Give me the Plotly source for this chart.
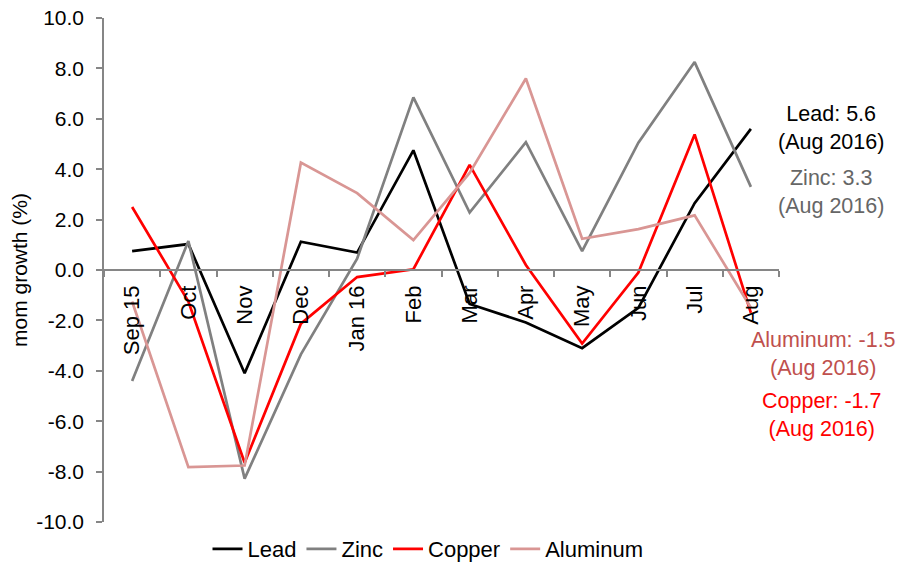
import plotly.graph_objects as go

# Month-on-month growth of base metal prices (%)
months = ["Sep 15", "Oct", "Nov", "Dec", "Jan 16", "Feb", "Mar", "Apr", "May", "Jun", "Jul", "Aug"]
lead = [0.75, 1.03, -4.1, 1.12, 0.69, 4.75, -1.35, -2.08, -3.1, -1.5, 2.65, 5.6]
zinc = [-4.4, 1.15, -8.28, -3.35, 0.45, 6.85, 2.28, 5.07, 0.75, 5.05, 8.25, 3.3]
copper = [2.5, -1.25, -7.65, -2.13, -0.28, 0.03, 4.17, 0.2, -2.92, -0.1, 5.38, -1.7]
aluminum = [-1.25, -7.82, -7.76, 4.26, 3.05, 1.19, 3.85, 7.6, 1.24, 1.62, 2.17, -1.5]
y_ticks = [-10, -8, -6, -4, -2, 0, 2, 4, 6, 8, 10]

series = [
    ("Lead", lead, "#000000", "#000000"),
    ("Zinc", zinc, "#808080", "#666666"),
    ("Copper", copper, "#FF0000", "#FF0000"),
    ("Aluminum", aluminum, "#D99694", "#C0504D"),
]

FONT = "Arial, Liberation Sans, sans-serif"

fig = go.Figure()
for name, vals, color, _ in series:
    fig.add_trace(go.Scatter(
        x=months, y=vals, name=name, mode="lines",
        line=dict(color=color, width=2.7),
    ))

# Latest-month value call-outs to the right of the plot
label_pos = {"Lead": (1.077, 0.781), "Zinc": (1.077, 0.654),
             "Aluminum": (1.066, 0.333), "Copper": (1.064, 0.212)}
for name, vals, _, tcolor in series:
    x, y = label_pos[name]
    fig.add_annotation(
        xref="paper", yref="paper", x=x, y=y,
        xanchor="center", yanchor="middle", showarrow=False,
        text=f"{name}: {vals[-1]:.1f}<br>({months[-1]} 2016)",
        font=dict(family=FONT, size=21.5, color=tcolor),
    )

fig.update_layout(
    width=901, height=565,
    margin=dict(l=104, r=122, t=18, b=43, autoexpand=False),
    paper_bgcolor="white", plot_bgcolor="white",
    font=dict(family=FONT, size=21, color="#000000"),
    showlegend=True,
    legend=dict(orientation="h", x=0.48, xanchor="center", y=-0.012, yanchor="top",
                font=dict(size=22), itemwidth=30, tracegroupgap=0,
                bgcolor="rgba(0,0,0,0)"),
    xaxis=dict(
        type="category", range=[-0.5, 11.5],
        anchor="free", position=0.5,
        showline=True, linecolor="#868686", linewidth=1.5,
        ticks="outside", ticklen=6, tickcolor="#868686", tickwidth=1.5,
        tickson="boundaries", tickangle=-90, ticklabelstandoff=6,
        showgrid=False, zeroline=False,
        tickfont=dict(size=22),
    ),
    yaxis=dict(
        range=[-10, 10],
        tickvals=y_ticks, ticktext=[f"{v:.1f}" for v in y_ticks],
        showline=True, linecolor="#868686", linewidth=1.5,
        ticks="outside", ticklen=6, tickcolor="#868686", tickwidth=1.5,
        ticklabelstandoff=8,
        showgrid=False, zeroline=False,
        tickfont=dict(size=21),
        title=dict(text="mom growth (%)", font=dict(size=21), standoff=3),
    ),
)

fig.write_html("out.html")
